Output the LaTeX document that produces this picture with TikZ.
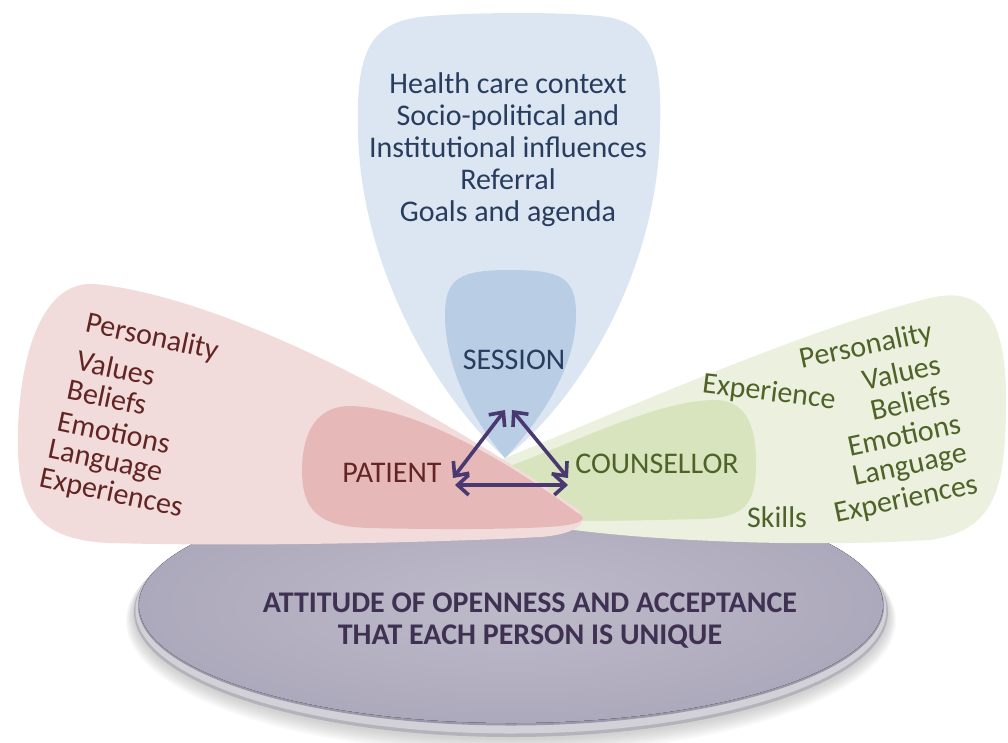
\documentclass[tikz,border=0pt]{standalone}
\usepackage{fontspec}
\setmainfont{Carlito}
\usepackage{xcolor}
\usetikzlibrary{arrows.meta}
\definecolor{sessout}{HTML}{DCE6F2}
\definecolor{sessin}{HTML}{B9CDE5}
\definecolor{patout}{HTML}{F2DCDB}
\definecolor{patin}{HTML}{E6B9B8}
\definecolor{counout}{HTML}{EBF1DE}
\definecolor{counin}{HTML}{D7E4BD}
\definecolor{discedge}{HTML}{B4B2BA}
\definecolor{discrim}{HTML}{D2D1D7}
\definecolor{discline}{HTML}{9C98AA}
\definecolor{discface}{HTML}{ADA9BC}
\definecolor{sesstext}{HTML}{283D5E}
\definecolor{pattext}{HTML}{632523}
\definecolor{countext}{HTML}{4F6228}
\definecolor{disctext}{HTML}{3F3151}
\definecolor{link}{HTML}{4A3970}

\begin{document}
\begin{tikzpicture}[x=1pt, y=-1pt,
  lbl/.style={font=\fontsize{30}{32}\selectfont, inner sep=0pt},
  patlbl/.style={lbl, text=pattext, rotate=-12},
  counlbl/.style={lbl, text=countext, rotate=12},
  linkarrow/.style={{Straight Barb[length=11pt,width=20pt]}-{Straight Barb[length=11pt,width=20pt]}, line width=3.6pt, draw=link}]
\useasboundingbox (0,0) rectangle (1008,742);

% base disc with soft shadow
\foreach \i in {1,...,8}
  \fill [black, opacity=0.025] (511,613+\i) ellipse ({377+\i} and {125+\i});
\fill [discedge] (511,612) ellipse (377 and 125);
\fill [discrim] (511,610) ellipse (375.5 and 123.5);
\fill [discline] (511,606) ellipse (373 and 119.5);
\fill [inner color=discface!80!white, outer color=discface] (511,605) ellipse (372 and 118);

% session petal
\fill [sessout] (505,458) .. controls (440,400) and (360,270) .. (358,130)
  .. controls (356,50) and (370,20) .. (430,16) .. controls (480,12) and (560,12) .. (600,16)
  .. controls (655,22) and (662,60) .. (660,130) .. controls (658,270) and (580,400) .. (505,458) -- cycle;
\fill [sessin] (505,458) .. controls (465,410) and (445,360) .. (445,315)
  .. controls (445,278) and (460,270) .. (510,270) .. controls (562,270) and (576,278) .. (576,315)
  .. controls (576,360) and (550,410) .. (505,458) -- cycle;

% counsellor petal
\fill [counout] (495,462) .. controls (600,420) and (800,330) .. (930,298)
  .. controls (985,285) and (1006,320) .. (1006,400) .. controls (1006,490) and (995,530) .. (930,540)
  .. controls (800,548) and (640,540) .. (560,528) .. controls (520,520) and (500,490) .. (495,462) -- cycle;
\fill [counin] (510,466) .. controls (580,440) and (660,400) .. (715,400)
  .. controls (748,400) and (756,430) .. (756,462) .. controls (756,505) and (745,518) .. (700,519)
  .. controls (650,520) and (590,522) .. (560,520) .. controls (530,515) and (515,495) .. (510,466) -- cycle;

% patient petal
\fill [patout] (576,508) .. controls (480,440) and (250,300) .. (95,284)
  .. controls (40,280) and (20,360) .. (18,430) .. controls (16,500) and (30,540) .. (110,543)
  .. controls (250,547) and (450,542) .. (540,537) .. controls (580,534) and (592,520) .. (576,508) -- cycle;
\fill [patin] (576,512) .. controls (520,470) and (420,407) .. (350,406)
  .. controls (312,406) and (302,440) .. (302,470) .. controls (302,510) and (318,527) .. (370,528)
  .. controls (450,530) and (530,529) .. (560,526) .. controls (585,523) and (588,518) .. (576,512) -- cycle;

% labels
\node [lbl, text=sesstext, align=center] (context) at (508,150)
  {Health care context\\Socio-political and\\Institutional influences\\Referral\\Goals and agenda};
\node [lbl, text=sesstext] (session) at (514,360) {SESSION};
\node [lbl, text=pattext] (patient) at (392,473) {PATIENT};
\node [lbl, text=countext] (counsellor) at (657,464) {COUNSELLOR};

\node [patlbl] (p1) at (152,338) {Personality};
\node [patlbl] (p2) at (116,368) {Values};
\node [patlbl] (p3) at (107,397) {Beliefs};
\node [patlbl] (p4) at (114,432) {Emotions};
\node [patlbl] (p5) at (105,463) {Language};
\node [patlbl] (p6) at (111,494) {Experiences};

\node [counlbl] (c1) at (866,347) {Personality};
\node [counlbl] (c2) at (901,372) {Values};
\node [counlbl] (c3) at (910,402) {Beliefs};
\node [counlbl] (c4) at (904,435) {Emotions};
\node [counlbl] (c5) at (910,467) {Language};
\node [counlbl] (c6) at (906,500) {Experiences};
\node [lbl, text=countext, rotate=-7] (cexp) at (769,393) {Experience};
\node [lbl, text=countext] (cskill) at (777,517) {Skills};

\node [lbl, text=disctext, align=center, font=\fontsize{30}{32}\selectfont\bfseries] (attitude) at (530,621)
  {ATTITUDE OF OPENNESS AND ACCEPTANCE\\THAT EACH PERSON IS UNIQUE};

% triangle of relations
\coordinate (topl) at (505,410);
\coordinate (topr) at (512,410);
\coordinate (left) at (453,478);
\coordinate (right) at (568,478);
\coordinate (bl) at (455,485);
\coordinate (br) at (568,485);
\draw [linkarrow] (left) -- (topl);
\draw [linkarrow] (topr) -- (right);
\draw [linkarrow] (bl) -- (br);
\end{tikzpicture}
\end{document}
